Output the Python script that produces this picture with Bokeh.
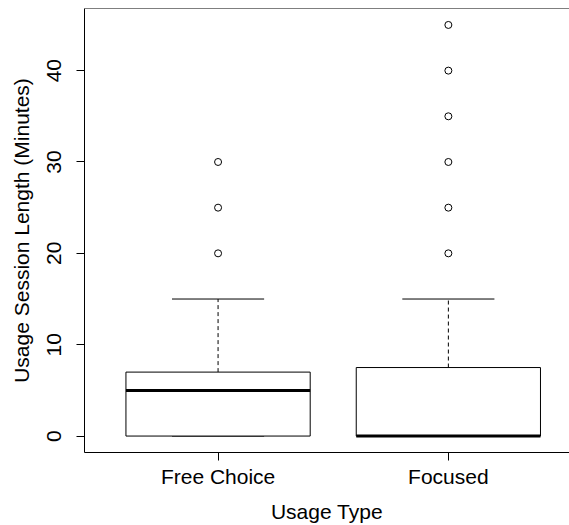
from bokeh.plotting import figure
from bokeh.models import Range1d, FixedTicker, Span, ColumnDataSource
from bokeh.embed import file_html
from bokeh.resources import INLINE

# Box-plot summary per usage type (minutes)
groups = ["Free Choice", "Focused"]
lower_whisker = [0, 0]
q1 = [0, 0]
median = [5, 0]
q3 = [7, 7.5]
upper_whisker = [15, 15]
outliers = {
    "Free Choice": [20, 25, 30],
    "Focused": [20, 25, 30, 35, 40, 45],
}
y_ticks = [0, 10, 20, 30, 40]

FONT = "Liberation Sans"
BOX_W = 0.8
CAP_W = 0.4

xs = [i + 1 for i in range(len(groups))]

p = figure(
    width=569, height=525,
    x_range=Range1d(0.42, 2.526), y_range=Range1d(-1.8, 46.8),
    output_backend="svg", toolbar_location=None,
    background_fill_color="white", border_fill_color="white",
    min_border_left=84, min_border_right=0, min_border_top=8, min_border_bottom=72,
)
p.outline_line_color = None
p.xgrid.visible = False
p.ygrid.visible = False

# frame top (the right side is left open)
p.add_layout(Span(location=46.8, dimension="width", line_color="black", line_width=1))

src = ColumnDataSource(dict(
    x=xs,
    left=[x - BOX_W / 2 for x in xs],
    right=[x + BOX_W / 2 for x in xs],
    cap_l=[x - CAP_W / 2 for x in xs],
    cap_r=[x + CAP_W / 2 for x in xs],
    lw=lower_whisker, q1=q1, med=median, q3=q3, uw=upper_whisker,
))

# dashed whiskers
p.segment(x0="x", y0="q3", x1="x", y1="uw", source=src,
          line_color="black", line_width=1, line_dash="4 3")
p.segment(x0="x", y0="lw", x1="x", y1="q1", source=src,
          line_color="black", line_width=1, line_dash="4 3")
# whisker caps
p.segment(x0="cap_l", y0="uw", x1="cap_r", y1="uw", source=src,
          line_color="black", line_width=1)
p.segment(x0="cap_l", y0="lw", x1="cap_r", y1="lw", source=src,
          line_color="black", line_width=1)
# boxes
p.quad(left="left", right="right", bottom="q1", top="q3", source=src,
       fill_color="white", line_color="black", line_width=1)
# medians
p.segment(x0="left", y0="med", x1="right", y1="med", source=src,
          line_color="black", line_width=3)

# outliers
ox, oy = [], []
for x, g in zip(xs, groups):
    for v in outliers[g]:
        ox.append(x)
        oy.append(v)
p.scatter(ox, oy, marker="circle", size=7, fill_color=None,
          line_color="black", line_width=1)

# axes
p.xaxis.ticker = FixedTicker(ticks=xs)
p.xaxis.major_label_overrides = {x: g for x, g in zip(xs, groups)}
p.xaxis.axis_label = "Usage Type"
p.yaxis.ticker = FixedTicker(ticks=y_ticks)
p.yaxis.axis_label = "Usage Session Length (Minutes)"
p.yaxis.major_label_orientation = "vertical"

for ax in (p.xaxis[0], p.yaxis[0]):
    ax.axis_line_color = "black"
    ax.major_tick_line_color = "black"
    ax.minor_tick_line_color = None
    ax.major_tick_in = 0
    ax.major_tick_out = 8
    ax.major_label_text_font = FONT
    ax.major_label_text_font_size = "21px"
    ax.major_label_text_color = "black"
    ax.axis_label_text_font = FONT
    ax.axis_label_text_font_size = "21px"
    ax.axis_label_text_font_style = "normal"
    ax.axis_label_text_color = "black"

p.xaxis.major_label_standoff = 4
p.xaxis.axis_label_standoff = 9
p.yaxis.major_label_standoff = 15
p.yaxis.axis_label_standoff = 12

open("out.html", "w").write(file_html(p, INLINE))
